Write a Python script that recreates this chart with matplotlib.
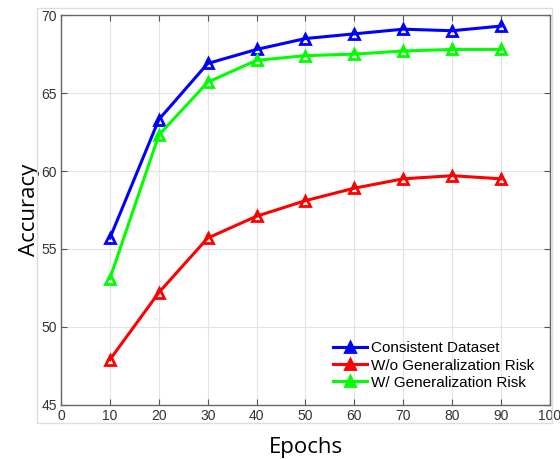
import numpy as np
import matplotlib.pyplot as plt
from matplotlib.patches import Rectangle

''' data '''
epochs = [10, 20, 30, 40, 50, 60, 70, 80, 90]
consistent = [55.7, 63.3, 66.9, 67.8, 68.5, 68.8, 69.1, 69.0, 69.3]
wo_risk = [47.9, 52.2, 55.7, 57.1, 58.1, 58.9, 59.5, 59.7, 59.5]
w_risk = [53.1, 62.3, 65.7, 67.1, 67.4, 67.5, 67.7, 67.8, 67.8]

labels = ['Consistent Dataset', 'W/o Generalization Risk', 'W/ Generalization Risk']
colors = ['#0000ff', '#ff0000', '#00ff00']

plt.rcParams['font.family'] = ['Liberation Sans', 'DejaVu Sans']

fig = plt.figure(figsize=(5.6, 4.59), dpi=100)
ax = fig.add_axes([0.109, 0.118, 0.873, 0.849])

# faint outer frame (as in the MATLAB export)
fig.patches.append(Rectangle((37/560, 1 - 423/459), (552-37)/560, (423-8)/459,
                             transform=fig.transFigure, fill=False,
                             edgecolor='#dddddd', linewidth=1.0, zorder=0))

for y, lab, c in zip([consistent, wo_risk, w_risk], labels, colors):
    ax.plot(epochs, y, color=c, linewidth=2.2, marker='^', markersize=7,
            markerfacecolor='none', markeredgewidth=2.0, label=lab)

ax.set(xlim=(0, 100), ylim=(45, 70))
ax.set_xticks(np.arange(0, 101, 10))
ax.set_yticks(np.arange(45, 71, 5))
ax.grid(True, color='#e3e3e3', linewidth=0.8)
ax.set_axisbelow(True)
ax.tick_params(direction='in', top=True, right=True, length=4,
               color='#555555', labelcolor='#333333', labelsize=10, pad=3)
for s in ax.spines.values():
    s.set_color('#666666')
    s.set_linewidth(1.0)

ax.set_xlabel('Epochs', fontsize=16, family=['Open Sans', 'DejaVu Sans'], labelpad=10)
ax.set_ylabel('Accuracy', fontsize=16, family=['Open Sans', 'DejaVu Sans'], labelpad=1)

leg = ax.legend(loc='lower right', frameon=False, fontsize=11, handlelength=2.2,
                handletextpad=0.3, labelspacing=0.2, borderaxespad=0.6)
for h in leg.legend_handles:
    h.set_markerfacecolor(h.get_color())

fig.savefig('out.png', dpi=100)
